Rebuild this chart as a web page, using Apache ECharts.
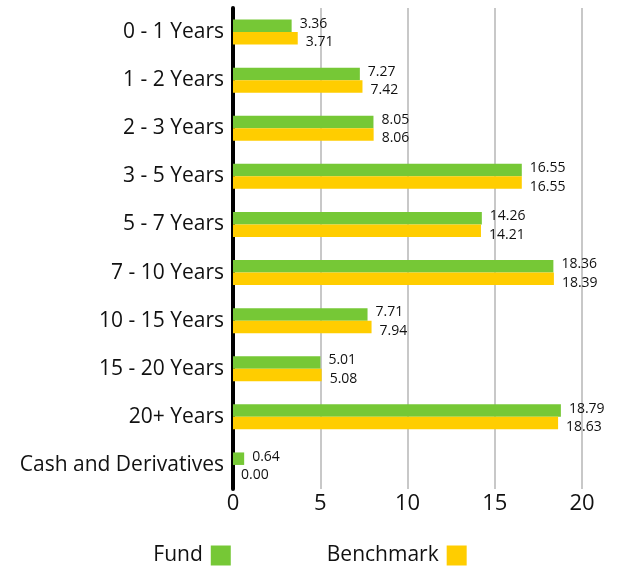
<!DOCTYPE html>
<html>
<head>
<meta charset="utf-8">
<script src="https://cdn.jsdelivr.net/npm/echarts@6/dist/echarts.min.js"></script>
<style>
  html, body { margin: 0; padding: 0; background: #fff; }
  #chart { width: 620px; height: 572px; }
</style>
</head>
<body>
<div id="chart"></div>
<script>
var categories = ['0 - 1 Years', '1 - 2 Years', '2 - 3 Years', '3 - 5 Years', '5 - 7 Years',
    '7 - 10 Years', '10 - 15 Years', '15 - 20 Years', '20+ Years', 'Cash and Derivatives'];
var fund = [3.36, 7.27, 8.05, 16.55, 14.26, 18.36, 7.71, 5.01, 18.79, 0.64];
var benchmark = [3.71, 7.42, 8.06, 16.55, 14.21, 18.39, 7.94, 5.08, 18.63, 0.00];

var font = '"Open Sans", sans-serif';

var chart = echarts.init(document.getElementById('chart'));
chart.setOption({
    animation: false,
    textStyle: { fontFamily: font },
    grid: { left: 233, right: 38, top: 8, bottom: 83, containLabel: false },
    legend: {
        bottom: 1,
        left: 'center',
        align: 'right',
        itemWidth: 20,
        itemHeight: 20,
        itemGap: 96,
        icon: 'rect',
        textStyle: { fontSize: 21, color: '#111', fontFamily: font, padding: [4, 3, 0, 0] },
        data: ['Fund', 'Benchmark']
    },
    xAxis: {
        type: 'value',
        min: 0,
        max: 20,
        interval: 5,
        axisLine: { show: false },
        axisTick: { show: false },
        axisLabel: { fontSize: 22, color: '#111', margin: 4 },
        splitLine: { lineStyle: { color: '#c8c8c8', width: 2 } }
    },
    yAxis: {
        type: 'category',
        inverse: true,
        data: categories,
        axisLine: { show: true, onZero: false, lineStyle: { color: '#000', width: 4 } },
        axisTick: { show: false },
        axisLabel: { fontSize: 21, color: '#111', margin: 9, padding: [5, 0, 0, 0] }
    },
    series: [
        {
            name: 'Fund',
            type: 'bar',
            data: fund,
            color: '#76c836',
            barGap: '0%',
            barCategoryGap: '48%',
            label: {
                show: true,
                position: 'right',
                distance: 8,
                offset: [0, -2],
                fontSize: 14,
                color: '#111',
                formatter: function (p) { return p.value.toFixed(2); }
            }
        },
        {
            name: 'Benchmark',
            type: 'bar',
            data: benchmark,
            color: '#ffcd00',
            label: {
                show: true,
                position: 'right',
                distance: 8,
                offset: [0, 4],
                fontSize: 14,
                color: '#111',
                formatter: function (p) { return p.value.toFixed(2); }
            }
        }
    ]
});
</script>
</body>
</html>
